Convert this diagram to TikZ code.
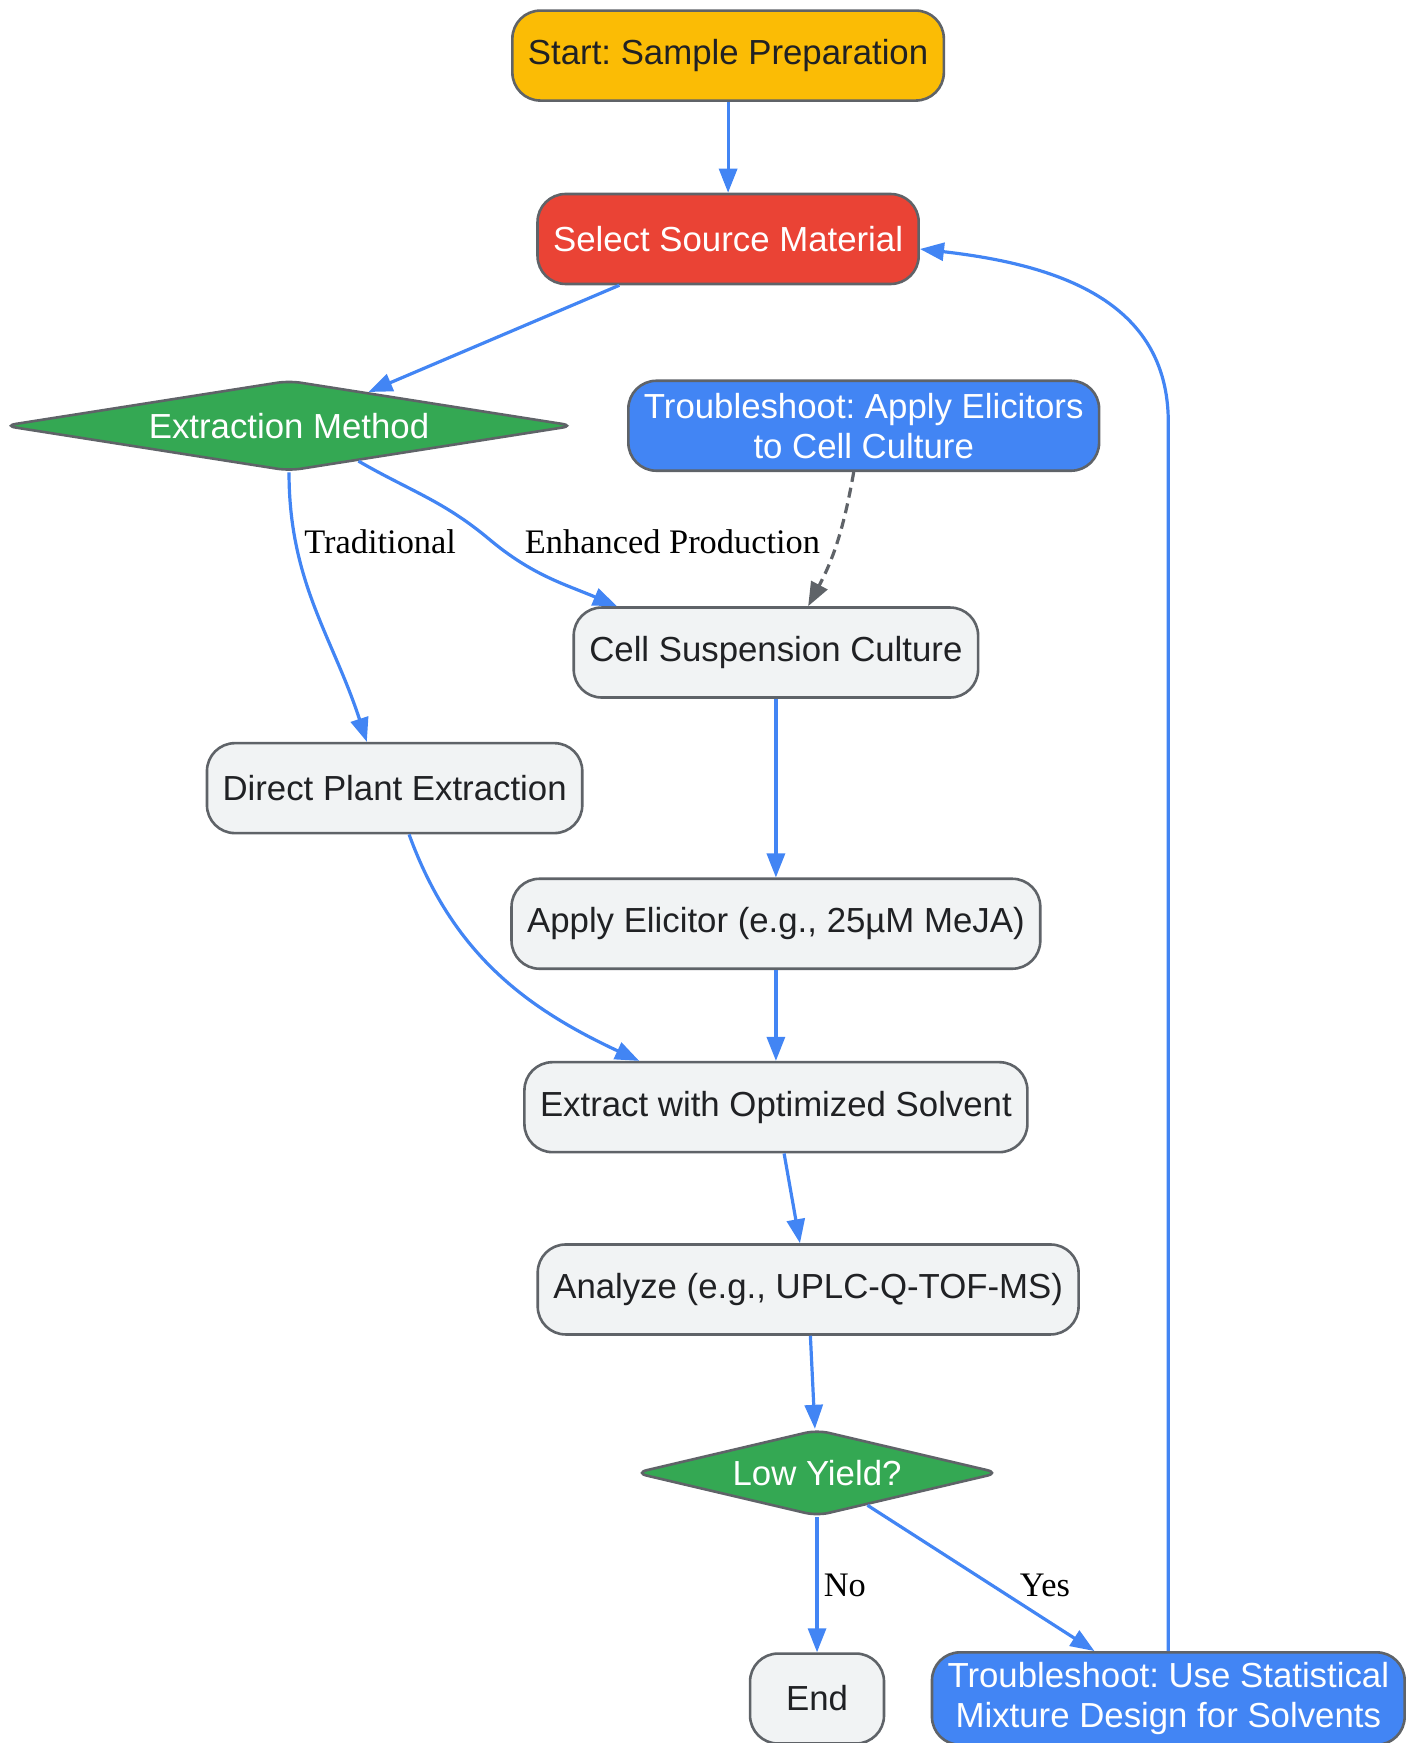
\documentclass[tikz,border=0pt]{standalone}
\usepackage{fontspec}
\setmainfont{Liberation Serif}
\setsansfont{Liberation Sans}
\frenchspacing
\usetikzlibrary{shapes.geometric,arrows.meta,calc}

\definecolor{gyellow}{HTML}{FBBC05}
\definecolor{gred}{HTML}{EA4335}
\definecolor{ggreen}{HTML}{34A853}
\definecolor{gblue}{HTML}{4285F4}
\definecolor{glight}{HTML}{F1F3F4}
\definecolor{gborder}{HTML}{5F6368}
\definecolor{gtext}{HTML}{202124}

\begin{document}
\begin{tikzpicture}[x=0.556pt,y=-0.556pt,
	box/.style={draw=gborder, line width=1.3pt, fill=glight, text=gtext, rounded corners=14pt,
		minimum height=45pt, inner xsep=7.8pt, inner ysep=5pt, align=center,
		font=\sffamily\fontsize{17.4}{20}\selectfont},
	choice/.style={diamond, draw=gborder, line width=1.3pt, fill=ggreen, text=white, inner sep=0pt,
		rounded corners=6pt, font=\sffamily\fontsize{17.4}{20}\selectfont},
	flow/.style={draw=gblue, line width=1.6pt, -{Triangle[length=12pt,width=9pt]}},
	lbl/.style={text=black, font=\rmfamily\fontsize{17.2}{20}\selectfont}]
	\clip (0,0) rectangle (1272,1568);
	
	%nodes
	\node[box, fill=gyellow] (start) at (655,50) {Start: Sample Preparation};
	\node[box, fill=gred, text=white] (select) at (655,215) {Select Source Material};
	\node[choice, aspect=6.4, minimum width=285.5pt, minimum height=45.4pt] (method) at (260,383) {Extraction Method};
	\node[box, fill=gblue, text=white] (elicit) at (777,383) {Troubleshoot: Apply Elicitors\\to Cell Culture};
	\node[box] (cell) at (698,587) {Cell Suspension Culture};
	\node[box] (direct) at (355,709) {Direct Plant Extraction};
	\node[box] (apply) at (698,831) {Apply Elicitor (e.g., 25µM MeJA)};
	\node[box] (extract) at (698,996) {Extract with Optimized Solvent};
	\node[box] (analyze) at (727,1160) {Analyze (e.g., UPLC-Q-TOF-MS)};
	\node[choice, aspect=4.3, minimum width=182.4pt, minimum height=43.3pt] (yield) at (735,1325) {Low Yield?};
	\node[box, minimum width=67pt] (finish) at (735,1528) {End};
	\node[box, fill=gblue, text=white] (mixture) at (1051,1528) {Troubleshoot: Use Statistical\\Mixture Design for Solvents};
	
	%labels
	\node[lbl] (trad) at (342,487) {Traditional};
	\node[lbl] (enh) at (605,487) {Enhanced Production};
	\node[lbl] (no) at (760,1426) {No};
	\node[lbl] (yes) at (940,1426) {Yes};
	
	%lines
	\draw[flow] (start) -- (select);
	\draw[flow] (select) -- (method);
	\draw[flow] (method.south) to[out=-90,in=108] ($(direct.north)+(-25,0)$);
	\draw[flow] (method.-27) to[out=-30,in=140] (440,485) to[out=-40,in=157] ($(cell.north)+(-143,0)$);
	\draw[draw=gborder, line width=1.6pt, dash pattern=on 5pt off 3pt, -{Triangle[length=12pt,width=9pt]}]
		($(elicit.south)+(-9,0)$) to[out=-100,in=62] ($(cell.north)+(29,0)$);
	\draw[flow] (cell) -- (apply);
	\draw[flow] ($(direct.south)+(13,0)$) to[out=-70,in=155] ($(extract.north)+(-123,0)$);
	\draw[flow] (apply) -- (extract);
	\draw[flow] (extract) -- (analyze);
	\draw[flow] (analyze) -- (yield);
	\draw[flow] (yield) -- (finish);
	\draw[flow] (yield) -- (mixture);
	\draw[flow] (mixture.north) -- (1051,380) .. controls (1051,270) and (950,238) .. ($(select.east)+(0,9)$);
	%\draw[help lines] (0,0) grid (1272,1568);
\end{tikzpicture}
\end{document}
